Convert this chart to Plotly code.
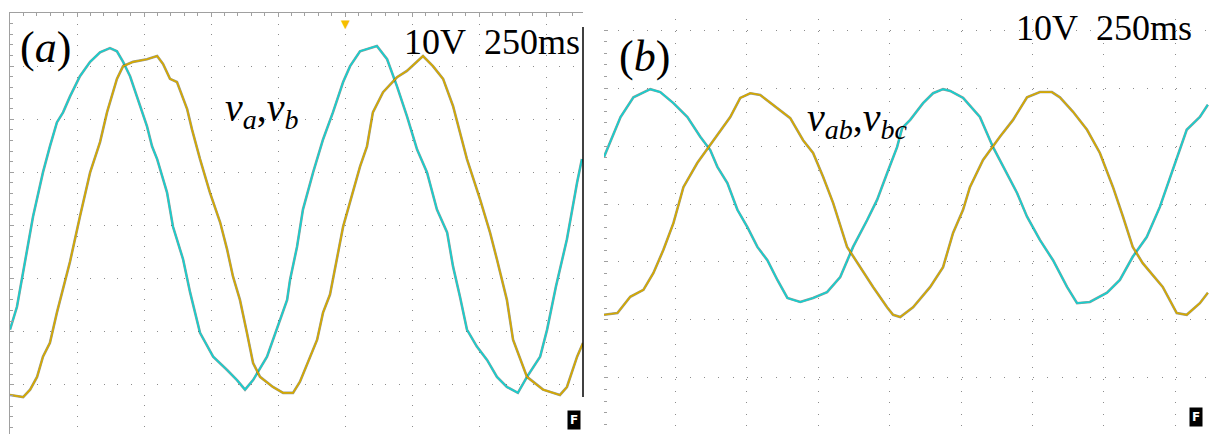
import plotly.graph_objects as go

W, H = 1209, 434

# scope settings: 10 V/div, 250 ms/div
V_DIV = 10
T_DIV = 250

# (a) phase voltages, time in ms (trigger at 0), voltage in V
A_T_VA = [-1250, -1224, -1164, -1127, -1101, -1075, -1052, -1026, -989, -951, -914, -877, -851, -828,
          -802, -776, -754, -739, -720, -701, -664, -642, -604, -578, -541, -492, -440, -403, -373, -343,
          -291, -254, -216, -205, -179, -157, -119, -82, -45, -7, 19, 56, 119, 157, 194, 231, 269, 306,
          343, 381, 403, 429, 455, 492, 530, 567, 604, 645, 679, 728, 754, 787, 828, 866, 884]
A_VA = [-19.6, -15.3, 1.7, 10.0, 14.9, 19.4, 21.3, 24.3, 28.1, 30.8, 32.6, 33.4, 32.8, 30.8,
        28.1, 24.3, 21.3, 18.7, 14.9, 12.5, 6.2, -0.2, -6.4, -12.6, -20.2, -24.7, -27.2, -29.1, -30.9, -29.1,
        -24.7, -19.6, -14.0, -10.2, -4.0, 3.0, 10.0, 16.2, 21.3, 27.0, 30.0, 32.8, 33.8, 31.3, 26.2, 20.6, 14.3, 10.0,
        3.0, -1.3, -7.7, -13.4, -19.6, -22.8, -25.3, -28.5, -30.4, -31.5, -28.5, -24.7, -19.6, -11.5, -2.6, 8.1, 12.5]

A_T_VB = [-1250, -1201, -1175, -1149, -1127, -1101, -1075, -1052, -1026, -989, -951, -914, -888, -851,
          -828, -791, -739, -701, -679, -653, -627, -589, -571, -541, -504, -466, -440, -418, -392, -366,
          -343, -317, -269, -231, -194, -168, -131, -104, -82, -56, -7, 56, 82, 104, 142, 194, 231, 291,
          328, 366, 403, 429, 455, 504, 541, 567, 604, 627, 679, 739, 802, 828, 866, 888]
A_VB = [-31.9, -32.3, -30.9, -28.5, -24.7, -22.1, -16.4, -12.1, -6.8, 1.7, 10.0, 15.7, 21.3, 27.6,
        30.0, 30.8, 31.3, 31.9, 30.4, 27.6, 27.0, 21.9, 18.1, 12.5, 6.2, 0.6, -4.5, -9.6, -14.0, -20.2,
        -25.9, -28.5, -30.4, -31.5, -31.5, -29.4, -24.7, -21.5, -16.4, -13.0, -0.2, 11.1, 14.9, 21.3, 25.1, 27.9, 29.1, 31.9,
        30.0, 27.6, 22.5, 17.5, 12.5, 4.9, -1.3, -6.4, -14.0, -21.5, -28.5, -30.9, -31.9, -30.4, -24.7, -22.1]

# (b) line voltages
B_T_VAB = [-1250, -1217, -1192, -1147, -1088, -1053, -1007, -958, -913, -878, -853, -818, -783, -748,
           -713, -678, -643, -608, -563, -518, -469, -423, -378, -329, -294, -259, -224, -206, -178, -133,
           -98, -63, -38, 7, 66, 112, 161, 196, 231, 276, 322, 371, 406, 451, 511, 556, 601, 650, 696,
           755, 790, 836, 864]
B_VAB = [8.1, 12.2, 15.0, 18.4, 19.8, 19.3, 17.4, 15.0, 11.6, 9.3, 6.4, 3.6, -1.0, -4.0,
         -7.4, -9.7, -13.1, -16.2, -16.9, -16.2, -15.2, -12.6, -7.4, -2.8, 0.7, 5.3, 9.8, 13.1, 14.5, 17.4,
         19.1, 19.8, 19.5, 18.3, 15.0, 9.8, 5.3, 1.9, -2.2, -6.2, -9.7, -14.3, -17.1, -16.9, -15.3, -13.1, -9.1, -5.7, -0.5,
         8.1, 12.8, 15.0, 17.1]

B_T_VBC = [-1250, -1203, -1158, -1112, -1077, -1042, -1007, -972, -923, -878, -843, -808, -773, -738,
           -703, -657, -598, -553, -518, -483, -448, -399, -353, -308, -259, -238, -213, -168, -108, -63,
           -28, 7, 31, 77, 136, 182, 231, 276, 318, 346, 392, 441, 486, 532, 567, 601, 636, 706, 755,
           790, 836, 864]
B_VBC = [-19.1, -18.8, -16.0, -14.8, -11.9, -7.9, -3.3, 2.9, 7.1, 10.2, 12.8, 15.0, 18.3, 19.1,
         18.8, 17.1, 14.8, 11.0, 8.8, 4.7, 0.2, -7.4, -10.9, -14.3, -17.8, -19.1, -19.5, -17.8, -14.3, -10.9,
         -5.0, -1.0, 2.9, 7.6, 11.6, 14.5, 18.4, 19.3, 19.3, 18.4, 15.9, 12.8, 8.8, 2.9, -2.2, -7.4, -10.2, -14.3, -18.8,
         -19.1, -17.1, -15.3]

CYAN = "#17CFCF"
GOLD = "#D6A900"
EDGE = "rgba(20,30,20,0.45)"
SERIF = "Liberation Serif, Times New Roman, serif"


def px(x):
    return x / W


def py(y):
    return 1 - y / H


fig = go.Figure()

# each trace: dark edge underneath, colour on top (scope look)
for t, v, col, xa, ya in [
    (A_T_VA, A_VA, CYAN, "x", "y"),
    (A_T_VB, A_VB, GOLD, "x", "y"),
    (B_T_VAB, B_VAB, CYAN, "x2", "y2"),
    (B_T_VBC, B_VBC, GOLD, "x2", "y2"),
]:
    fig.add_trace(go.Scatter(x=t, y=v, mode="lines", xaxis=xa, yaxis=ya,
                             line=dict(color=EDGE, width=2.6), showlegend=False, hoverinfo="skip"))
    fig.add_trace(go.Scatter(x=t, y=v, mode="lines", xaxis=xa, yaxis=ya,
                             line=dict(color=col, width=1.7), showlegend=False))

grid_common = dict(showticklabels=False, zeroline=False, gridcolor="#8c8c8c", gridwidth=1)

fig.update_layout(
    width=W, height=H,
    margin=dict(l=0, r=0, t=0, b=0),
    paper_bgcolor="white", plot_bgcolor="white",
    hovermode=False,
    xaxis=dict(domain=[px(10), px(583)], range=[-5 * T_DIV, 888], anchor="y", side="top",
               dtick=T_DIV, tick0=0, showline=True, linecolor="#a0a0a0", linewidth=1,
               ticks="inside", ticklen=4, tickcolor="#a0a0a0",
               minor=dict(dtick=T_DIV / 5, ticks="inside", ticklen=3, tickcolor="#a0a0a0"),
               griddash="1px,9.6px", **grid_common),
    yaxis=dict(domain=[0, py(13)], range=[-39.25, 4 * V_DIV], anchor="x",
               dtick=V_DIV, tick0=0, showline=True, linecolor="#a0a0a0", linewidth=1,
               ticks="inside", ticklen=4, tickcolor="#a0a0a0",
               minor=dict(dtick=V_DIV / 5, ticks="inside", ticklen=3, tickcolor="#a0a0a0"),
               griddash="1px,12.4px", **grid_common),
    xaxis2=dict(domain=[px(604), 1], range=[-5 * T_DIV, 868], anchor="y2",
                dtick=T_DIV, tick0=0, showline=False, ticks="",
                griddash="1px,10.6px", **grid_common),
    yaxis2=dict(domain=[0, py(19.4)], range=[-39.66, 31.83], anchor="x2",
                dtick=V_DIV, tick0=0, showline=False,
                ticks="inside", ticklen=4, tickcolor="#a0a0a0",
                minor=dict(dtick=V_DIV / 5, ticks="inside", ticklen=3, tickcolor="#a0a0a0"),
                griddash="1px,13.3px", **grid_common),
)

# right edge marker of screen (a)
fig.add_shape(type="line", xref="paper", yref="paper", x0=px(583), x1=px(583),
              y0=py(397), y1=py(27), line=dict(color="black", width=1.5))

anns = [
    dict(x=px(45), y=py(48), text="(<i>a</i>)", size=44),
    dict(x=px(582), y=py(42), text="10V\u00a0\u00a0250ms", size=36, xanchor="right"),
    dict(x=px(262), y=py(110), text="<i>v</i><sub><i>a</i></sub>,<i>v</i><sub><i>b</i></sub>", size=40),
    dict(x=px(644), y=py(56), text="(<i>b</i>)", size=44),
    dict(x=px(1194), y=py(28), text="10V\u00a0\u00a0250ms", size=36, xanchor="right"),
    dict(x=px(857), y=py(120), text="<i>v</i><sub><i>ab</i></sub>,<i>v</i><sub><i>bc</i></sub>", size=40),
]
for a in anns:
    fig.add_annotation(x=a["x"], y=a["y"], xref="paper", yref="paper", text=a["text"],
                       showarrow=False, xanchor=a.get("xanchor", "center"), yanchor="middle",
                       font=dict(family=SERIF, size=a["size"], color="black"))

# trigger marker at t = 0
fig.add_annotation(x=0, y=py(11), xref="x", yref="paper", text="\u25bc", showarrow=False,
                   yanchor="top", font=dict(size=15, color="#F5BE00"))

# small "F" badges
for xb, yb in [(574, 430), (1203, 427)]:
    fig.add_annotation(x=px(xb), y=py(yb), xref="paper", yref="paper", text="<b>F</b>",
                       showarrow=False, bgcolor="black", borderpad=2,
                       font=dict(family="DejaVu Sans", size=12, color="white"))

# page body has a default margin; drop it so the figure fills the window
fig.write_html("out.html", config={"displayModeBar": False},
               post_script="document.body.style.margin='0';")
